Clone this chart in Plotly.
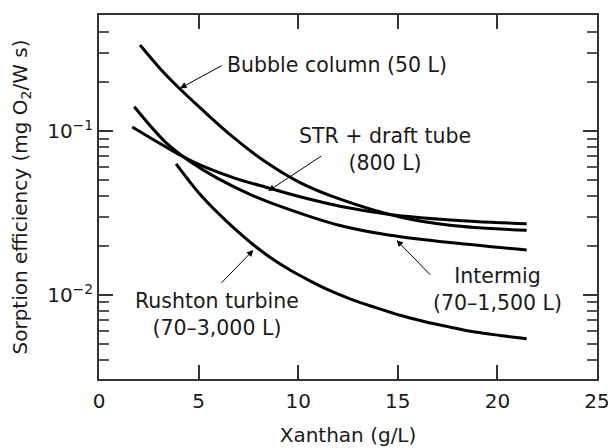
import plotly.graph_objects as go

# ---- data ----
bubble_x = [2.06, 3.06, 4.07, 5.07, 6.73, 8.43, 10.09, 12.10, 15.11, 17.62, 21.47]
bubble_y = [0.3346, 0.2411, 0.1804, 0.1388, 0.0917, 0.0640, 0.0485, 0.0384, 0.0299, 0.0266, 0.0248]

str_x = [1.67, 3.40, 4.73, 6.74, 8.58, 10.09, 12.10, 14.61, 17.62, 21.47]
str_y = [0.1057, 0.0793, 0.0649, 0.0520, 0.0447, 0.0397, 0.0348, 0.0310, 0.0287, 0.0272]

intermig_x = [1.77, 3.40, 4.57, 5.91, 7.58, 9.25, 12.10, 14.61, 17.62, 21.47]
intermig_y = [0.1406, 0.0840, 0.0652, 0.0518, 0.0411, 0.0342, 0.0265, 0.0231, 0.0209, 0.0188]

rushton_x = [3.87, 4.47, 5.07, 5.67, 6.33, 7.03, 7.73, 8.58, 9.59, 10.59, 11.60,
             12.70, 13.86, 15.11, 16.27, 17.62, 18.88, 20.13, 21.47]
rushton_y = [0.0631, 0.0506, 0.0411, 0.03436, 0.02871, 0.02399, 0.02032, 0.01698, 0.01419,
             0.01219, 0.01061, 0.00937, 0.00839, 0.00751, 0.00691, 0.00636, 0.00594,
             0.00566, 0.00541]

x_ticks = [0, 5, 10, 15, 20, 25]
y_major = [0.01, 0.1]
y_major_text = ["10<sup>\u22122</sup>", "10<sup>\u22121</sup>"]
y_minor = [0.004, 0.005, 0.006, 0.007, 0.008, 0.009,
           0.02, 0.03, 0.04, 0.05, 0.06, 0.07, 0.08, 0.09,
           0.2, 0.3, 0.4]

FONT = "DejaVu Sans"
FS = 20
AFS = 20.5
TXT = "#1a1a1a"

fig = go.Figure()
for xs, ys in [(bubble_x, bubble_y), (str_x, str_y), (intermig_x, intermig_y), (rushton_x, rushton_y)]:
    fig.add_trace(go.Scatter(x=xs, y=ys, mode="lines",
                             line=dict(color="black", width=3, shape="spline", smoothing=1.0),
                             showlegend=False, hoverinfo="skip"))

# annotations: (text, x, log10 y, xanchor)
labels = [
    ("Bubble column (50 L)", 6.34, -0.5954, "left"),
    ("STR + draft tube<br>(800 L)", 14.36, -1.111, "center"),
    ("Intermig<br>(70\u20131,500 L)", 19.98, -1.965, "center"),
    ("Rushton turbine<br>(70\u20133,000 L)", 5.92, -2.122, "center"),
]
for t, x, y, xa in labels:
    fig.add_annotation(x=x, y=y, text=t, showarrow=False, xanchor=xa, yanchor="middle",
                       font=dict(family=FONT, size=AFS, color=TXT), align="center")

# arrows: head (x, log y), tail (ax, log ay)
arrows = [
    (4.07, -0.7395, 6.24, -0.5954),
    (8.50, -1.366, 11.24, -1.146),
    (14.94, -1.666, 16.70, -1.886),
    (7.75, -1.726, 6.07, -1.936),
]
for x, y, ax, ay in arrows:
    fig.add_annotation(x=x, y=y, ax=ax, ay=ay, axref="x", ayref="y", text="",
                       showarrow=True, arrowhead=2, arrowsize=1.3, arrowwidth=1,
                       arrowcolor="black", standoff=0)

fig.update_layout(
    width=608, height=440,
    margin=dict(l=91, r=19, t=5, b=65),
    paper_bgcolor="white", plot_bgcolor="white",
    font=dict(family=FONT, size=FS, color=TXT),
    xaxis=dict(range=[0, 25], tickvals=x_ticks, ticks="inside", ticklen=14, tickwidth=1.5,
               tickcolor="#333", showline=True, linecolor="#333", linewidth=1.5, mirror="ticks",
               showgrid=False, zeroline=False, ticklabelstandoff=3,
               title=dict(text="Xanthan (g/L)", standoff=16, font=dict(size=FS))),
    yaxis=dict(type="log", range=[-2.513, -0.292], tickmode="array", tickvals=y_major,
               ticktext=y_major_text, ticks="inside", ticklen=14, tickwidth=1.5, tickcolor="#333",
               showline=True, linecolor="#333", linewidth=1.5, mirror="ticks",
               showgrid=False, zeroline=False,
               minor=dict(tickmode="array", tickvals=y_minor, ticks="inside", ticklen=10,
                          tickwidth=1.5, tickcolor="#555", showgrid=False),
               title=dict(text="Sorption efficiency (mg O<sub>2</sub>/W s)", standoff=16,
                          font=dict(size=FS))),
)

fig.write_html("out.html")
